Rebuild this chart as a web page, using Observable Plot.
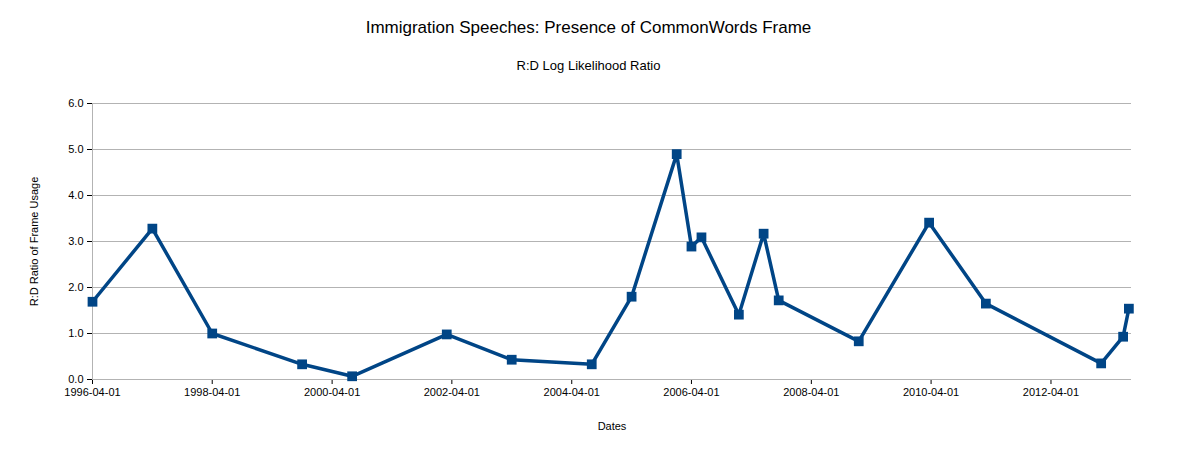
<!DOCTYPE html>
<html><head><meta charset="utf-8">
<script src="https://cdn.jsdelivr.net/npm/d3@7"></script>
<script src="https://cdn.jsdelivr.net/npm/@observablehq/plot@0.6"></script>
<style>
body{margin:0;background:#fff;font-family:"Liberation Sans",Arial,sans-serif;}
#t{position:absolute;top:18px;width:1177px;text-align:center;font-size:17px;color:#000}
#s{position:absolute;top:58px;width:1177px;text-align:center;font-size:13px;color:#000}
#c{position:absolute;top:90px;left:0}
</style></head><body>
<div id="t">Immigration Speeches: Presence of CommonWords Frame</div>
<div id="s">R:D Log Likelihood Ratio</div>
<div id="c"></div>
<script>
const dates = ["1996-04-01","1997-04-01","1998-04-01","1999-10-01","2000-08-01","2002-03-01","2003-04-01","2004-08-01","2005-04-01","2006-01-01","2006-04-01","2006-06-01","2007-01-15","2007-06-15","2007-09-15","2009-01-15","2010-03-20","2011-03-01","2013-02-01","2013-06-15","2013-07-20"];
const values = [1.69,3.28,1.0,0.33,0.07,0.98,0.43,0.33,1.8,4.9,2.89,3.09,1.41,3.17,1.72,0.83,3.41,1.65,0.35,0.93,1.54];
const xTicks = ["1996-04-01","1998-04-01","2000-04-01","2002-04-01","2004-04-01","2006-04-01","2008-04-01","2010-04-01","2012-04-01"];
const yTicks = [0,1,2,3,4,5,6];
const data = dates.map((d,i)=>({date:new Date(d+"T00:00:00Z"),value:values[i]}));
const fmt = d3.utcFormat("%Y-%m-%d");
const chart = Plot.plot({
  width:1177,height:360,
  marginLeft:92,marginRight:46,marginTop:13,marginBottom:71,
  style:{fontFamily:"Liberation Sans, Arial, sans-serif",fontSize:"11px",color:"#000"},
  x:{type:"utc",domain:[new Date("1996-04-01T00:00:00Z"),new Date("2013-08-05T00:00:00Z")],ticks:xTicks.map(d=>new Date(d+"T00:00:00Z")),tickFormat:fmt,label:"Dates",labelAnchor:"center",labelArrow:"none",labelOffset:50,tickSize:5},
  y:{domain:[0,6],ticks:yTicks,label:"R:D Ratio of Frame Usage",labelAnchor:"center",labelArrow:"none",labelOffset:62,tickSize:5,grid:false},
  marks:[
    Plot.gridY(yTicks,{stroke:"#b3b3b3",strokeOpacity:1}),
    Plot.ruleY([0],{stroke:"#b3b3b3"}),
    Plot.ruleX([new Date("1996-04-01T00:00:00Z")],{stroke:"#b3b3b3"}),
    Plot.line(data,{x:"date",y:"value",stroke:"#004586",strokeWidth:3.5}),
    Plot.dot(data,{x:"date",y:"value",symbol:"square",fill:"#004586",r:5.5})
  ]
});
document.getElementById("c").appendChild(chart);
</script></body></html>
